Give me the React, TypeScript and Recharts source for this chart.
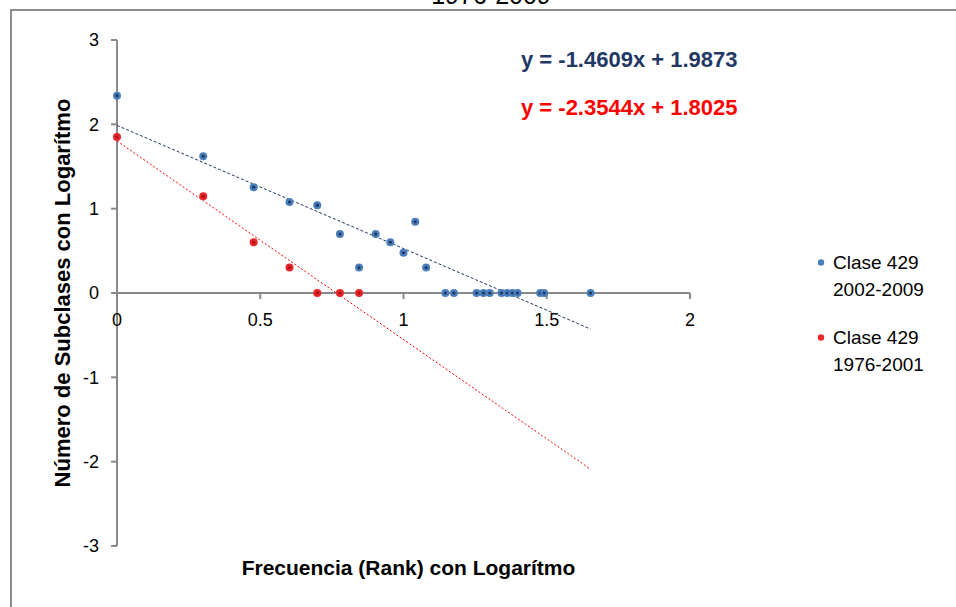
import { Legend, ReferenceDot, ReferenceLine, Scatter, ScatterChart, XAxis, YAxis } from 'recharts'

const FONT = '"Liberation Sans", Arial, sans-serif'
const AXIS = '#898989'
const BLUE = '#4a7ebb'
const BLUE_DARK = '#1f3864'
const RED = '#e8262a'
const RED_DARK = '#a81414'

// log10(rank) and log10(subclass count), Clase 429 2002-2009
const rank2002 = [
  0, 0.301, 0.477, 0.602, 0.699, 0.778, 0.845, 0.903, 0.954, 1, 1.041, 1.079, 1.146, 1.176, 1.255, 1.279, 1.301,
  1.342, 1.362, 1.38, 1.398, 1.477, 1.491, 1.653,
]
const count2002 = [
  2.34, 1.623, 1.255, 1.079, 1.041, 0.699, 0.301, 0.699, 0.602, 0.477, 0.845, 0.301, 0, 0, 0, 0, 0, 0, 0, 0, 0, 0, 0,
  0,
]

// Clase 429 1976-2001
const rank1976 = [0, 0.301, 0.477, 0.602, 0.699, 0.778, 0.845]
const count1976 = [1.851, 1.146, 0.602, 0.301, 0, 0, 0]

// linear trendlines shown on the chart
const fitRange = [0, 1.653]
const slope2002 = -1.4609
const intercept2002 = 1.9873
const slope1976 = -2.3544
const intercept1976 = 1.8025

const xTicks = [0, 0.5, 1, 1.5, 2]
const yTicks = [-3, -2, -1, 0, 1, 2, 3]

const name2002 = 'Clase 429|2002-2009'
const name1976 = 'Clase 429|1976-2001'
const legendOrder = [name2002, name1976]

const series2002 = rank2002.map((x, i) => ({ x, y: count2002[i] }))
const series1976 = rank1976.map((x, i) => ({ x, y: count1976[i] }))
const trend2002 = fitRange.map((x) => ({ x, y: slope2002 * x + intercept2002 }))
const trend1976 = fitRange.map((x) => ({ x, y: slope1976 * x + intercept1976 }))

const fmtEq = (m: number, b: number) => `y = ${m.toFixed(4)}x + ${b.toFixed(4)}`

const dot = (fill: string, core: string) => (p: any) => (
  <g>
    <circle cx={p.cx} cy={p.cy} r={4} fill={fill} />
    <circle cx={p.cx} cy={p.cy} r={1.6} fill={core} />
  </g>
)

const noDot = () => <g />

function XTick({ cx, cy, value }: { cx: number; cy: number; value: number }) {
  return (
    <g>
      <line x1={cx} y1={cy} x2={cx} y2={cy + 6} stroke={AXIS} strokeWidth={2} />
      <text x={cx} y={cy + 33} textAnchor="middle" fontSize={18} fontFamily={FONT} fill="#000">
        {value}
      </text>
    </g>
  )
}

function YTitle({ viewBox }: any) {
  const x = viewBox.x + 62
  const y = viewBox.y + viewBox.height / 2
  return (
    <text
      x={x}
      y={y}
      transform={`rotate(-90, ${x}, ${y})`}
      textAnchor="middle"
      dominantBaseline="central"
      fontSize={22}
      fontWeight="bold"
      fontFamily={FONT}
      fill="#000"
    >
      Número de Subclases con Logarítmo
    </text>
  )
}

function LegendBox({ payload }: any) {
  const items = (payload ?? [])
    .filter((e: any) => legendOrder.includes(e.value))
    .sort((a: any, b: any) => legendOrder.indexOf(a.value) - legendOrder.indexOf(b.value))
  return (
    <div style={{ fontFamily: FONT, fontSize: 19, color: '#000' }}>
      {items.map((e: any) => {
        const [a, b] = String(e.value).split('|')
        return (
          <div key={e.value} style={{ display: 'flex', alignItems: 'flex-start', marginBottom: 21 }}>
            <svg width={18} height={27} style={{ flex: 'none' }}>
              <circle cx={6} cy={13.5} r={3.2} fill={e.color} />
            </svg>
            <div style={{ lineHeight: '27px' }}>
              <div>{a}</div>
              <div>{b}</div>
            </div>
          </div>
        )
      })}
    </div>
  )
}

export default function App() {
  return (
    <div style={{ position: 'absolute', left: 0, top: 0, width: 956, height: 607, overflow: 'hidden', background: '#fff' }}>
      <div
        style={{
          position: 'absolute',
          left: 10,
          top: 9,
          width: 1000,
          height: 700,
          border: '2px solid #8c8c8c',
        }}
      />
      <div
        style={{
          position: 'absolute',
          left: 0,
          width: 956,
          top: -17,
          textAlign: 'center',
          paddingLeft: 26,
          boxSizing: 'border-box',
          fontFamily: FONT,
          fontSize: 25,
          lineHeight: '25px',
        }}
      >
        1976-2009
      </div>
      <div style={{ position: 'absolute', left: 0, top: 0 }}>
        <ScatterChart width={956} height={607} margin={{ top: 40, right: 266, bottom: 0, left: 0 }}>
          <XAxis
            type="number"
            dataKey="x"
            domain={[0, 2]}
            ticks={xTicks}
            axisLine={false}
            tickLine={false}
            tick={false}
            height={61}
            label={{
              value: 'Frecuencia (Rank) con Logarítmo',
              position: 'insideBottom',
              offset: 32,
              dx: 5,
              fontSize: 21,
              fontWeight: 'bold',
              fontFamily: FONT,
              fill: '#000',
            }}
          />
          <YAxis
            type="number"
            dataKey="y"
            domain={[-3, 3]}
            ticks={yTicks}
            width={117}
            tickSize={6}
            tickMargin={12}
            axisLine={{ stroke: AXIS, strokeWidth: 2 }}
            tickLine={{ stroke: AXIS, strokeWidth: 2 }}
            tick={{ fontSize: 18, fontFamily: FONT, fill: '#000' }}
            label={{ content: YTitle }}
          />
          <ReferenceLine y={0} stroke={AXIS} strokeWidth={2} />
          {xTicks.map((t) => (
            <ReferenceDot
              key={t}
              x={t}
              y={0}
              r={0}
              shape={(p: any) => <XTick cx={p.cx} cy={p.cy} value={t} />}
            />
          ))}
          <Scatter
            data={trend2002}
            line={{ stroke: BLUE_DARK, strokeWidth: 1, strokeDasharray: '3 2' }}
            shape={noDot}
            legendType="none"
            isAnimationActive={false}
          />
          <Scatter
            data={trend1976}
            line={{ stroke: '#ff0000', strokeWidth: 1, strokeDasharray: '2 2' }}
            shape={noDot}
            legendType="none"
            isAnimationActive={false}
          />
          <Scatter name={name2002} data={series2002} fill={BLUE} shape={dot(BLUE, BLUE_DARK)} isAnimationActive={false} />
          <Scatter name={name1976} data={series1976} fill={RED} shape={dot(RED, RED_DARK)} isAnimationActive={false} />
          <Legend
            layout="vertical"
            align="center"
            verticalAlign="middle"
            content={LegendBox}
            wrapperStyle={{ position: 'absolute', left: 815, top: 248.5, width: 140 }}
          />
        </ScatterChart>
      </div>
      <div
        style={{
          position: 'absolute',
          left: 521,
          top: 47,
          fontFamily: FONT,
          fontSize: 22,
          fontWeight: 'bold',
          lineHeight: '26px',
          color: BLUE_DARK,
          whiteSpace: 'nowrap',
        }}
      >
        {fmtEq(slope2002, intercept2002)}
      </div>
      <div
        style={{
          position: 'absolute',
          left: 521,
          top: 95,
          fontFamily: FONT,
          fontSize: 22,
          fontWeight: 'bold',
          lineHeight: '26px',
          color: '#ff0000',
          whiteSpace: 'nowrap',
        }}
      >
        {fmtEq(slope1976, intercept1976)}
      </div>
    </div>
  )
}
